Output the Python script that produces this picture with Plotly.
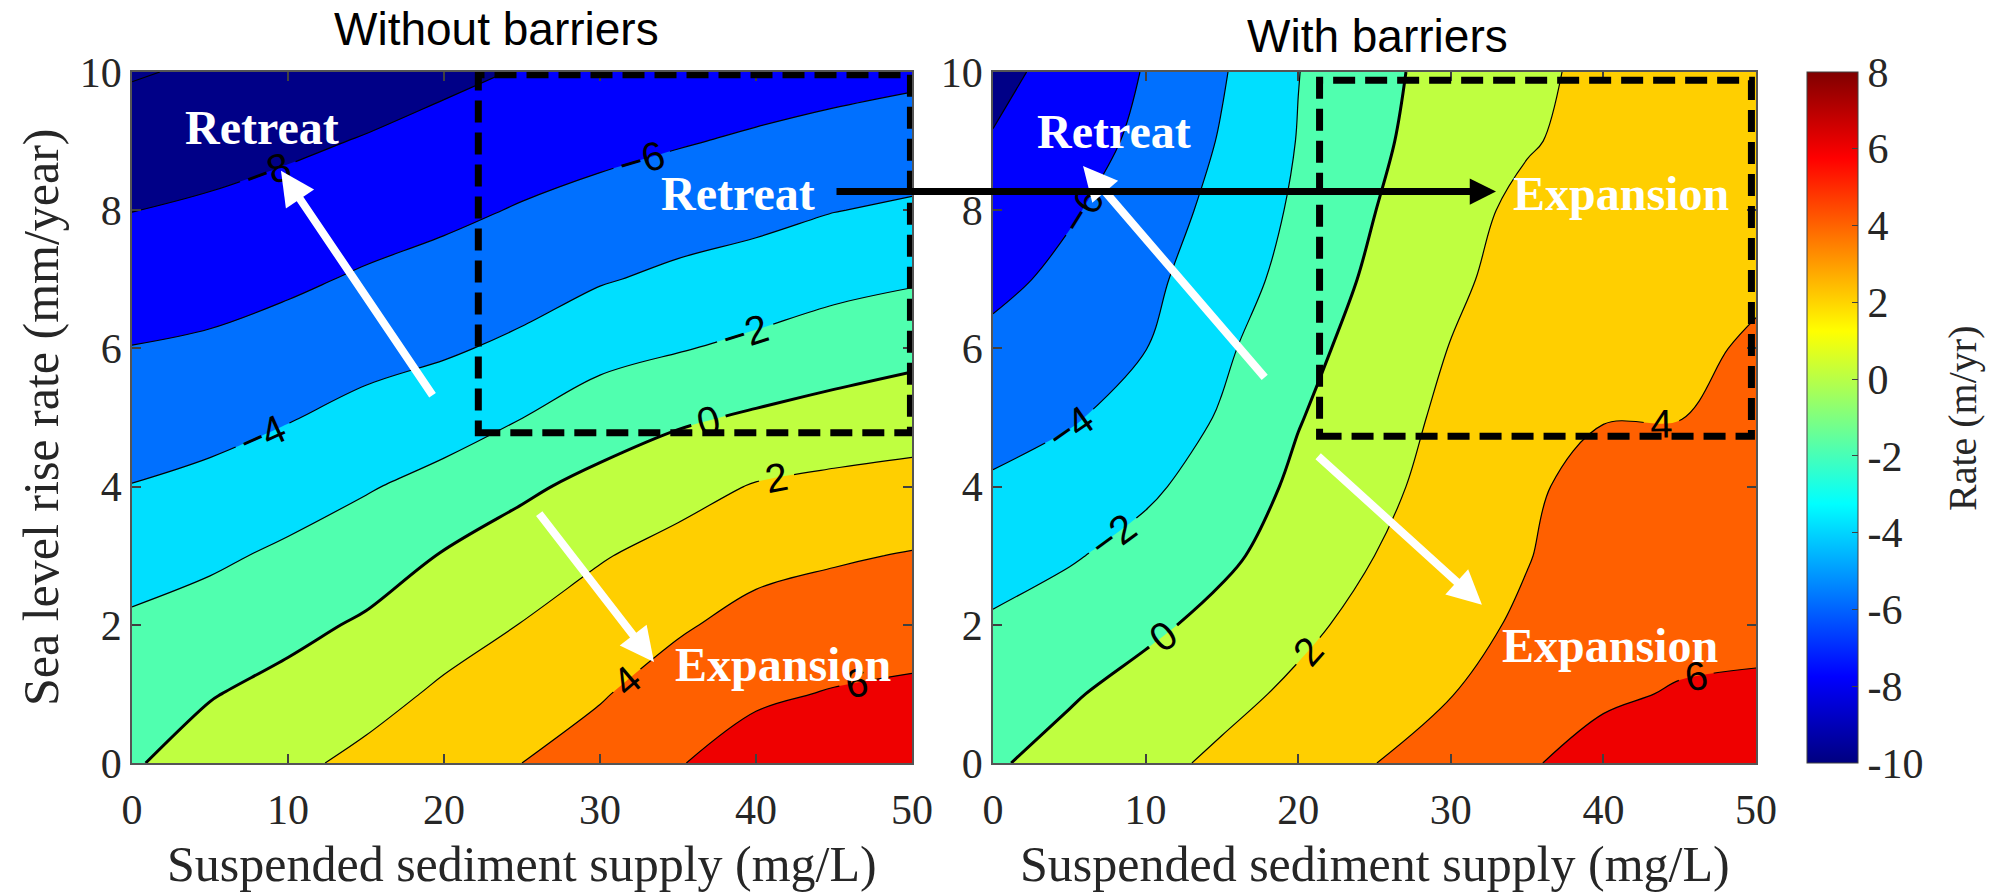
import plotly.graph_objects as go

# Model grid
sediment = [0, 5, 10, 15, 20, 25, 30, 35, 40, 45, 50]   # suspended sediment supply (mg/L)
slr = [0, 1, 2, 3, 4, 5, 6, 7, 8, 9, 10]                # sea level rise rate (mm/year)

# Marsh edge rate (m/yr) without barriers, one row per sea level rise rate
nb_0 = [-0.17, 0.8, 1.6, 2.44, 3.3, 4.0, 4.83, 5.9, 6.83, 7.26, 7.44]
nb_1 = [-0.95, -0.1, 0.57, 1.34, 2.3, 3.02, 3.85, 4.89, 5.72, 6.11, 6.33]
nb_2 = [-1.73, -1.2, -0.51, 0.24, 1.23, 2.05, 2.88, 3.77, 4.61, 4.97, 5.22]
nb_3 = [-2.77, -2.33, -1.66, -0.94, 0.12, 0.92, 1.87, 2.63, 3.42, 3.8, 4.11]
nb_4 = [-3.95, -3.53, -2.88, -2.15, -1.39, -0.32, 0.53, 1.31, 2.13, 2.47, 2.67]
nb_5 = [-4.96, -4.65, -4.11, -3.44, -2.87, -2.02, -1.0, -0.28, 0.24, 0.7, 1.09]
nb_6 = [-5.95, -5.71, -5.24, -4.64, -4.23, -3.62, -2.63, -2.12, -1.57, -1.02, -0.56]
nb_7 = [-6.99, -6.73, -6.32, -5.78, -5.33, -4.81, -4.15, -3.61, -3.17, -2.57, -2.2]
nb_8 = [-8.03, -7.73, -7.33, -6.84, -6.39, -5.87, -5.37, -4.91, -4.55, -4.05, -3.73]
nb_9 = [-9.09, -8.73, -8.34, -7.89, -7.4, -6.89, -6.53, -6.14, -5.76, -5.37, -5.07]
nb_10 = [-10.15, -9.73, -9.35, -8.93, -8.4, -7.9, -7.64, -7.32, -6.94, -6.68, -6.38]

# Marsh edge rate (m/yr) with barriers
wb_0 = [-0.2, 0.64, 1.49, 2.33, 3.15, 3.97, 4.91, 5.87, 6.5, 6.6, 6.7]
wb_1 = [-0.99, -0.18, 0.66, 1.5, 2.33, 3.14, 3.95, 4.87, 5.8, 6.1, 6.15]
wb_2 = [-1.78, -1.07, -0.37, 0.52, 1.61, 2.55, 3.41, 4.29, 5.3, 5.6, 5.75]
wb_3 = [-2.75, -2.18, -1.33, -0.35, 0.78, 2.0, 2.96, 3.92, 4.94, 5.05, 5.35]
wb_4 = [-3.79, -3.07, -2.35, -1.13, 0.37, 1.53, 2.67, 3.8, 4.45, 4.5, 4.96]
wb_5 = [-4.65, -4.19, -3.22, -1.83, -0.1, 1.15, 2.4, 3.4, 3.95, 3.97, 4.56]
wb_6 = [-5.47, -4.74, -4.03, -2.34, -0.62, 0.8, 2.05, 2.9, 3.4, 3.65, 4.2]
wb_7 = [-6.53, -5.49, -4.44, -3.0, -1.26, 0.37, 1.71, 2.6, 3.1, 3.45, 3.75]
wb_8 = [-7.07, -6.21, -4.96, -3.45, -1.67, -0.03, 1.34, 2.45, 2.95, 3.3, 3.6]
wb_9 = [-7.87, -6.81, -5.6, -3.85, -1.93, -0.3, 0.83, 1.84, 2.6, 3.1, 3.45]
wb_10 = [-8.59, -7.25, -5.9, -4.17, -2.04, -0.47, 0.67, 1.62, 2.45, 2.95, 3.35]

rate_without = [nb_0, nb_1, nb_2, nb_3, nb_4, nb_5, nb_6, nb_7, nb_8, nb_9, nb_10]
rate_with = [wb_0, wb_1, wb_2, wb_3, wb_4, wb_5, wb_6, wb_7, wb_8, wb_9, wb_10]

colorbar_ticks = [-10, -8, -6, -4, -2, 0, 2, 4, 6, 8]
x_ticks = [0, 10, 20, 30, 40, 50]
y_ticks = [0, 2, 4, 6, 8, 10]

W, H = 1993, 893
SERIF = "Liberation Serif"
SANS = "Liberation Sans"
AXC = "#262626"

# filled bands (one colour per band, below -10 ... above 6)
band_colors = ["rgb(0,0,135)", "rgb(0,0,135)", "rgb(0,0,255)", "rgb(0,112,255)",
               "rgb(0,223,255)", "rgb(80,255,175)", "rgb(191,255,64)",
               "rgb(255,207,0)", "rgb(255,96,0)", "rgb(239,0,0)"]
band_scale = [[k / (len(band_colors) - 1), c] for k, c in enumerate(band_colors)]

jet = [[0.0, "rgb(0,0,128)"], [0.125, "rgb(0,0,255)"], [0.375, "rgb(0,255,255)"],
       [0.625, "rgb(255,255,0)"], [0.875, "rgb(255,0,0)"], [1.0, "rgb(128,0,0)"]]

label_font = dict(family=SANS, size=40, color="black")

fig = go.Figure()


def add_panel(z, xa, ya):
    fig.add_trace(go.Contour(
        x=sediment, y=slr, z=z, xaxis=xa, yaxis=ya,
        autocontour=False,
        contours=dict(start=-10, end=6, size=2, coloring="fill", showlines=False),
        colorscale=band_scale, showscale=False,
        line=dict(width=0, smoothing=1), hoverinfo="skip"))
    for start, end, width in [(-10, -2, 1.2), (2, 6, 1.2), (0, 0, 3)]:
        fig.add_trace(go.Contour(
            x=sediment, y=slr, z=z, xaxis=xa, yaxis=ya,
            autocontour=False,
            contours=dict(start=start, end=end, size=2, coloring="none",
                          showlabels=True, labelfont=label_font),
            line=dict(color="black", width=width, smoothing=1),
            showscale=False, hoverinfo="skip"))


add_panel(rate_without, "x", "y")
add_panel(rate_with, "x2", "y2")

# colour bar
fig.add_trace(go.Scatter(
    x=[None], y=[None], xaxis="x2", yaxis="y2", mode="markers",
    marker=dict(color=[0], cmin=-10, cmax=8, colorscale=jet, showscale=True,
                colorbar=dict(
                    x=1807 / W, xanchor="left", xpad=0, ypad=0,
                    y=(H - (72 + 763) / 2) / H, yanchor="middle",
                    len=691, lenmode="pixels", thickness=51, thicknessmode="pixels",
                    outlinewidth=1, outlinecolor="#404040",
                    tickvals=colorbar_ticks, ticktext=[str(t) for t in colorbar_ticks],
                    ticks="inside", ticklen=6, tickcolor="#404040",
                    tickfont=dict(family=SERIF, size=42, color=AXC))),
    showlegend=False, hoverinfo="skip"))

ydom = [(H - 763) / H, (H - 72) / H]
axis_style = dict(ticks="inside", ticklen=9, tickwidth=1.5, tickcolor="#404040",
                  showline=True, linecolor="#555555", linewidth=1.5, mirror="ticks",
                  showgrid=False, zeroline=False,
                  tickfont=dict(family=SERIF, size=42, color=AXC))

fig.update_layout(
    width=W, height=H, margin=dict(l=0, r=0, t=0, b=0, autoexpand=False),
    paper_bgcolor="white", plot_bgcolor="white", showlegend=False,
    xaxis=dict(domain=[132 / W, 912 / W], range=[0, 50], tickvals=x_ticks, anchor="y",
               ticklabelstandoff=9, **axis_style),
    yaxis=dict(domain=ydom, range=[0, 10], tickvals=y_ticks, anchor="x", **axis_style),
    xaxis2=dict(domain=[993 / W, 1756 / W], range=[0, 50], tickvals=x_ticks, anchor="y2",
                ticklabelstandoff=9, **axis_style),
    yaxis2=dict(domain=ydom, range=[0, 10], tickvals=y_ticks, anchor="x2", **axis_style),
)

# dashed regions of interest
box_line = dict(color="black", width=7, dash="22px,10px")
fig.add_shape(type="rect", xref="x", yref="y", x0=22.2, x1=49.9, y0=4.78, y1=9.96,
              line=box_line, fillcolor="rgba(0,0,0,0)", layer="above")
fig.add_shape(type="rect", xref="x2", yref="y2", x0=21.4, x1=49.7, y0=4.73, y1=9.88,
              line=box_line, fillcolor="rgba(0,0,0,0)", layer="above")


def px(xp, yp):
    return xp / W, (H - yp) / H


def text(xp, yp, s, size, family, color, bold=False, angle=0):
    x, y = px(xp, yp)
    fig.add_annotation(x=x, y=y, xref="paper", yref="paper", showarrow=False,
                       text=f"<b>{s}</b>" if bold else s, textangle=angle,
                       xanchor="center", yanchor="middle",
                       font=dict(family=family, size=size, color=color))


# panel titles
text(496, 29, "Without barriers", 46, SANS, "black")
text(1377, 36, "With barriers", 46, SANS, "black")

# axis titles
text(41, 417, "Sea level rise rate (mm/year)", 50, SERIF, AXC, angle=-90)
text(522, 864, "Suspended sediment supply (mg/L)", 50, SERIF, AXC)
text(1375, 864, "Suspended sediment supply (mg/L)", 50, SERIF, AXC)
text(1962, 418, "Rate (m/yr)", 40, SERIF, AXC, angle=-90)


def arrow(xa, ya, tail, tip, color, width, size):
    fig.add_annotation(xref=xa, yref=ya, axref=xa, ayref=ya,
                       x=tip[0], y=tip[1], ax=tail[0], ay=tail[1],
                       text="", showarrow=True, arrowhead=2, arrowsize=size,
                       arrowwidth=width, arrowcolor=color, standoff=0)


# trajectories in parameter space
arrow("x", "y", (19.33, 5.30), (9.55, 8.57), "white", 8, 0.85)
arrow("x", "y", (26.03, 3.63), (33.46, 1.46), "white", 8, 0.85)
arrow("x2", "y2", (17.89, 5.56), (5.9, 8.64), "white", 8, 0.85)
arrow("x2", "y2", (21.21, 4.46), (32.04, 2.29), "white", 8, 0.85)

# link between the two highlighted regions
hx, hy = px(1496, 191.5)
fig.add_annotation(xref="paper", yref="paper", x=hx, y=hy, ax=-(1496 - 835), ay=0,
                   axref="pixel", ayref="pixel", text="", showarrow=True, arrowhead=2,
                   arrowsize=0.75, arrowwidth=7, arrowcolor="black", standoff=0)

# state labels
text(262, 127, "Retreat", 48, SERIF, "white", bold=True)
text(738, 193, "Retreat", 48, SERIF, "white", bold=True)
text(783, 664, "Expansion", 48, SERIF, "white", bold=True)
text(1114, 131, "Retreat", 48, SERIF, "white", bold=True)
text(1621, 193, "Expansion", 48, SERIF, "white", bold=True)
text(1610, 646, "Expansion", 48, SERIF, "white", bold=True)

fig.write_html("out.html")
